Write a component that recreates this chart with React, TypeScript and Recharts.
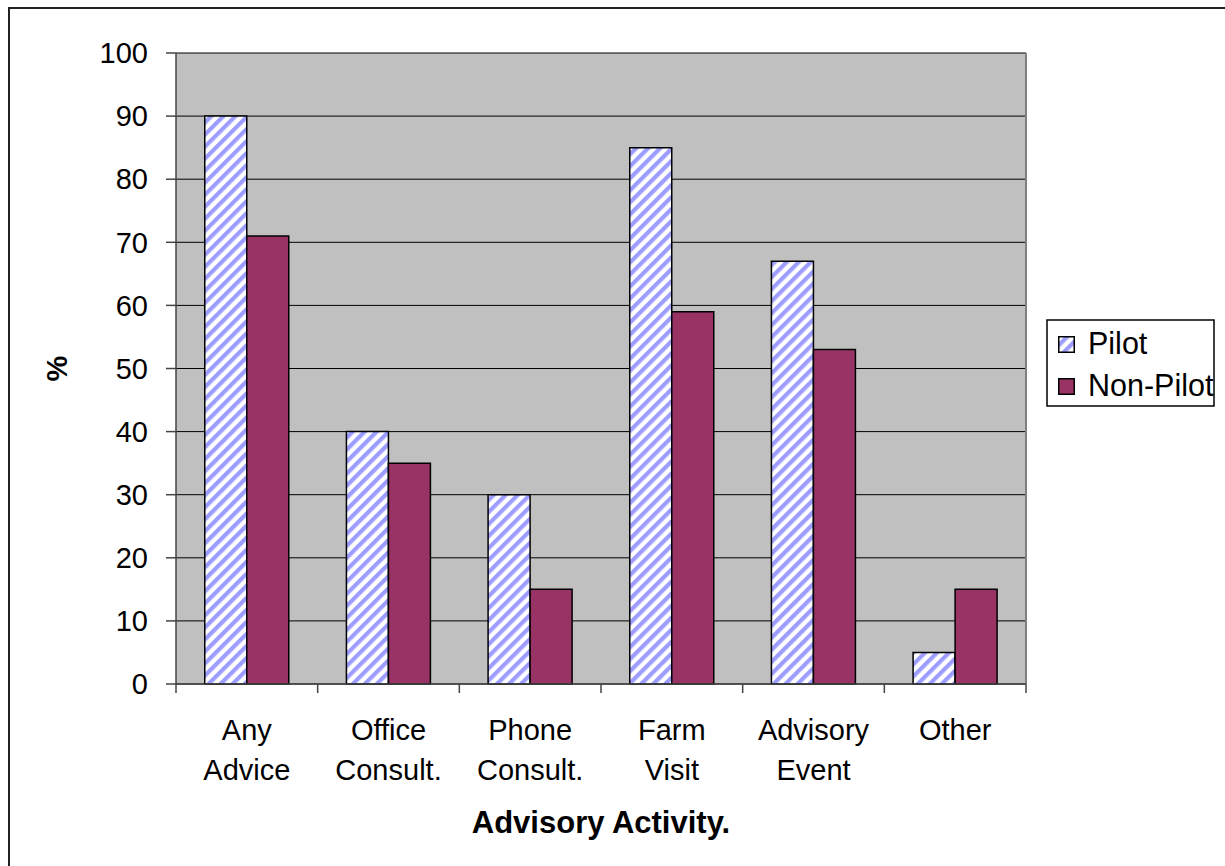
import React from 'react';
import { BarChart, Bar, XAxis, YAxis, CartesianGrid, Legend, Label } from 'recharts';

const categories = ['Any\nAdvice', 'Office\nConsult.', 'Phone\nConsult.', 'Farm\nVisit', 'Advisory\nEvent', 'Other'];
const pilot = [90, 40, 30, 85, 67, 5];
const nonPilot = [71, 35, 15, 59, 53, 15];
const yTicks = [0, 10, 20, 30, 40, 50, 60, 70, 80, 90, 100];
const seriesNames = ['Pilot', 'Non-Pilot'];

const data = categories.map((name, i) => ({ name, pilot: pilot[i], nonPilot: nonPilot[i] }));

const W = 1225;
const H = 866;
const PLOT_LEFT = 176;
const PLOT_RIGHT = 1026;
const PLOT_TOP = 53;
const PLOT_BOTTOM = 684;
const BAND = (PLOT_RIGHT - PLOT_LEFT) / categories.length;
const FONT = "Arial, 'Liberation Sans', sans-serif";
const FS = 29;

const XTick = (props: any) => {
  const { x, y, payload, index } = props;
  const lines = String(payload.value).split('\n');
  return (
    <g>
      <line x1={x - BAND / 2} x2={x - BAND / 2} y1={y} y2={y + 9} stroke="#444" strokeWidth={1.5} />
      {index === categories.length - 1 && (
        <line x1={x + BAND / 2} x2={x + BAND / 2} y1={y} y2={y + 9} stroke="#444" strokeWidth={1.5} />
      )}
      {lines.map((l, i) => (
        <text key={i} x={x} y={y + 56 + i * 40} textAnchor="middle" fill="#000" fontSize={FS} fontFamily={FONT}>
          {l}
        </text>
      ))}
    </g>
  );
};

const YTitle = (props: any) => {
  const vb = props.viewBox || { y: PLOT_TOP, height: PLOT_BOTTOM - PLOT_TOP };
  const cy = vb.y + vb.height / 2;
  return (
    <text x={57} y={cy} transform={`rotate(-90 57 ${cy})`} textAnchor="middle" dy="0.36em"
      fontSize={FS} fontWeight="bold" fontFamily={FONT} fill="#000">
      %
    </text>
  );
};

// legend drawn as its own little svg box, right of the plot
const LegendBox = () => {
  const fills = ['url(#hatch)', '#993366'];
  return (
    <svg width={170} height={89} style={{ display: 'block' }}>
      <rect x={1} y={1} width={167} height={86} fill="#fff" stroke="#000" strokeWidth={1.5} />
      {seriesNames.map((name, i) => (
        <g key={name}>
          <rect x={12.75} y={17.75 + i * 42} width={15.5} height={15.5} fill={fills[i]} stroke="#000" strokeWidth={1.5} />
          <text x={42} y={35 + i * 42} fontSize={30.5} fontFamily={FONT} fill="#000">{name}</text>
        </g>
      ))}
    </svg>
  );
};

export default function App() {
  return (
    <div style={{ position: 'absolute', left: 0, top: 0, width: W, height: H, overflow: 'hidden', background: '#fff' }}>
      <svg width={0} height={0} style={{ position: 'absolute' }}>
        <defs>
          <pattern id="hatch" patternUnits="userSpaceOnUse" width={8.5} height={8.5} patternTransform="rotate(45)">
            <rect x={0} y={0} width={8.5} height={8.5} fill="#ffffff" />
            <rect x={0} y={0} width={4.2} height={8.5} fill="#9d9dff" />
          </pattern>
        </defs>
      </svg>
      <div style={{ position: 'absolute', left: 8, top: 7, width: 1400, height: 1000, borderLeft: '2px solid #222', borderTop: '2px solid #222' }} />
      <BarChart
        width={W}
        height={H}
        data={data}
        barCategoryGap="20.3%"
        barGap={0}
        margin={{ top: PLOT_TOP, right: W - PLOT_RIGHT, bottom: H - PLOT_BOTTOM - 150, left: 0 }}
        style={{ position: 'absolute', left: 0, top: 0 }}
      >
        <CartesianGrid vertical={false} horizontal stroke="#000" strokeWidth={1} fill="#c0c0c0" fillOpacity={1} />
        <CartesianGrid horizontal={false} vertical verticalPoints={[PLOT_RIGHT]} stroke="#808080" strokeWidth={2} />
        <XAxis
          dataKey="name"
          interval={0}
          height={150}
          tickSize={0}
          tickMargin={0}
          tickLine={false}
          axisLine={{ stroke: '#444', strokeWidth: 1.5 }}
          tick={<XTick />}
        >
          <Label value="Advisory Activity." position="insideBottom" offset={1} fontSize={31} fontWeight="bold" fontFamily={FONT} fill="#000" />
        </XAxis>
        <YAxis
          width={PLOT_LEFT}
          domain={[0, 100]}
          ticks={yTicks}
          interval={0}
          tickSize={10}
          tickMargin={18}
          axisLine={{ stroke: '#444', strokeWidth: 1.5 }}
          tickLine={{ stroke: '#444', strokeWidth: 1.5 }}
          tick={{ fill: '#000', fontSize: FS, fontFamily: FONT }}
          label={<YTitle />}
        />
        <Legend
          layout="vertical"
          align="center"
          verticalAlign="middle"
          content={<LegendBox />}
          wrapperStyle={{ position: 'absolute', left: 1046, top: 319, width: 170, height: 89 }}
        />
        <Bar dataKey="pilot" name={seriesNames[0]} fill="url(#hatch)" stroke="#000" strokeWidth={1.5} isAnimationActive={false} />
        <Bar dataKey="nonPilot" name={seriesNames[1]} fill="#993366" stroke="#000" strokeWidth={1.5} isAnimationActive={false} />
      </BarChart>
    </div>
  );
}
